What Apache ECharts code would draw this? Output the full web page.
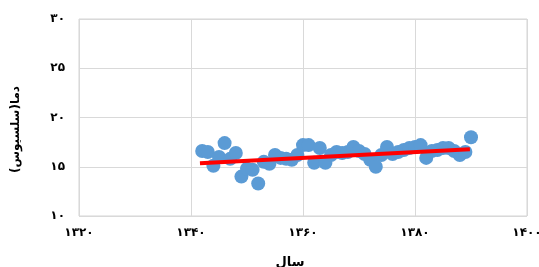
<!DOCTYPE html>
<html>
<head>
<meta charset="utf-8">
<script src="https://cdn.jsdelivr.net/npm/echarts@6/dist/echarts.min.js"></script>
<style>
  html, body { margin: 0; padding: 0; background: #fff; }
  #chart { width: 539px; height: 267px; }
</style>
</head>
<body>
<div id="chart"></div>
<script>
// سال ها و دمای میانگین (خوانده شده از تصویر)
var years = [1342, 1343, 1344, 1345, 1346, 1347, 1348, 1349, 1350, 1351,
  1352, 1353, 1354, 1355, 1356, 1357, 1358, 1359, 1360, 1361,
  1362, 1363, 1364, 1365, 1366, 1367, 1368, 1369, 1370, 1371,
  1372, 1373, 1374, 1375, 1376, 1377, 1378, 1379, 1380, 1381,
  1382, 1383, 1384, 1385, 1386, 1387, 1388, 1389, 1390];
var temps = [16.6, 16.5, 15.1, 16.0, 17.4, 15.8, 16.4, 14.0, 14.8, 14.7,
  13.3, 15.5, 15.3, 16.2, 15.9, 15.8, 15.7, 16.2, 17.2, 17.2,
  15.4, 16.9, 15.4, 16.2, 16.5, 16.4, 16.5, 17.0, 16.6, 16.3,
  15.7, 15.0, 16.2, 17.0, 16.3, 16.5, 16.7, 16.9, 17.0, 17.2,
  15.9, 16.6, 16.7, 16.9, 16.9, 16.6, 16.2, 16.5, 18.0];
// خط روند
var trendYears = [1341.6, 1389.8];
var trendTemps = [15.35, 16.77];

var xTicks = {1320: '۱۳۲۰', 1340: '۱۳۴۰', 1360: '۱۳۶۰', 1380: '۱۳۸۰', 1400: '۱۴۰۰'};
var yTicks = {10: '۱۰', 15: '۱۵', 20: '۲۰', 25: '۲۵', 30: '۳۰'};

var chart = echarts.init(document.getElementById('chart'), null, {renderer: 'canvas'});

var pts = [];
for (var i = 0; i < years.length; i++) pts.push([years[i], temps[i]]);
var trend = [];
for (var j = 0; j < trendYears.length; j++) trend.push([trendYears[j], trendTemps[j]]);

chart.setOption({
  animation: false,
  grid: { left: 79, right: 12, top: 19, bottom: 51, show: true, borderColor: '#d4d4d4', borderWidth: 1,
    containLabel: false, outerBoundsMode: 'none' },
  xAxis: {
    type: 'value', min: 1320, max: 1400, interval: 20,
    name: 'سال', nameLocation: 'middle', nameGap: 40,
    nameTextStyle: { fontFamily: 'DejaVu Sans', fontSize: 13, color: '#000', fontWeight: 'bold', padding: [0, 26, 0, 0] },
    axisLine: { show: false }, axisTick: { show: false },
    splitLine: { show: true, lineStyle: { color: '#d9d9d9', width: 1 } },
    axisLabel: { margin: 11, color: '#000', fontFamily: 'DejaVu Sans', fontSize: 12, fontWeight: 'bold',
      formatter: function (v) { return xTicks[v] || ''; } }
  },
  yAxis: {
    type: 'value', min: 10, max: 30, interval: 5,
    name: 'دما(سلسیوس)', nameLocation: 'middle', nameGap: 57, nameRotate: 90,
    nameTextStyle: { fontFamily: 'DejaVu Sans', fontSize: 12, color: '#000', fontWeight: 'bold', padding: [0, 24, 0, 0] },
    axisLine: { show: false }, axisTick: { show: false },
    splitLine: { show: true, lineStyle: { color: '#d9d9d9', width: 1 } },
    axisLabel: { margin: 14, color: '#000', fontFamily: 'DejaVu Sans', fontSize: 12, fontWeight: 'bold',
      formatter: function (v) { return yTicks[v] || ''; } }
  },
  series: [
    {
      type: 'scatter', data: pts, symbolSize: 14,
      itemStyle: { color: '#5b9bd5', opacity: 1 }
    },
    {
      type: 'line', data: trend, showSymbol: false, symbol: 'none', z: 5,
      lineStyle: { color: '#ff0000', width: 4 }
    }
  ]
});
</script>
</body>
</html>
